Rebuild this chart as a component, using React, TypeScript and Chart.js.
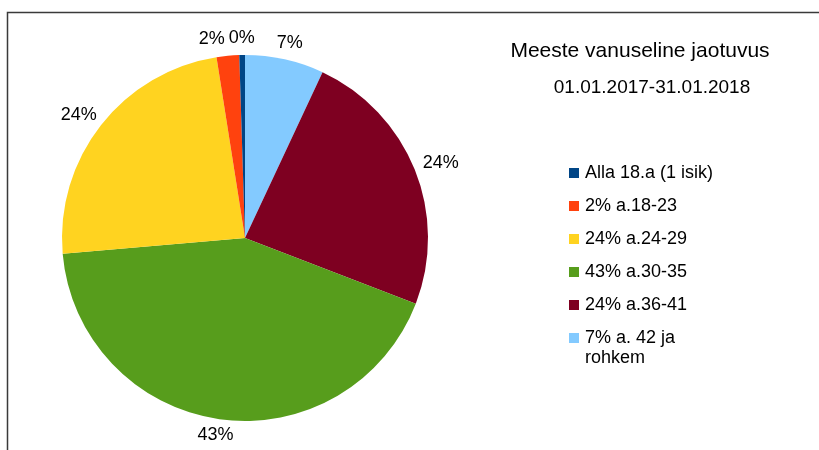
import React, { useEffect, useRef } from "react";
import { Chart, registerables } from "chart.js";

Chart.register(...registerables);

// ---- data ----
const legendLabels = [
  "Alla 18.a (1 isik)",
  "2% a.18-23",
  "24% a.24-29",
  "43% a.30-35",
  "24% a.36-41",
  "7% a. 42 ja rohkem",
];
const counts = [1, 4, 48, 86, 48, 14];
const sliceColors = ["#004586", "#ff420e", "#ffd320", "#579d1c", "#7e0021", "#83caff"];
const titleText = "Meeste vanuseline jaotuvus";
const subtitleText = "01.01.2017-31.01.2018";

const FONT = "'Liberation Sans', Arial, Helvetica, sans-serif";

function wrapText(ctx: CanvasRenderingContext2D, text: string, maxW: number): string[] {
  const words = text.split(" ");
  const lines: string[] = [];
  let cur = "";
  for (const w of words) {
    const test = cur ? cur + " " + w : w;
    if (ctx.measureText(test).width > maxW && cur) {
      lines.push(cur);
      cur = w;
    } else cur = test;
  }
  if (cur) lines.push(cur);
  return lines;
}

const decorPlugin = {
  id: "decor",
  beforeDraw(chart: any) {
    const ctx: CanvasRenderingContext2D = chart.ctx;
    ctx.save();
    ctx.strokeStyle = "#3a3a3a";
    ctx.lineWidth = 1.5;
    ctx.beginPath();
    ctx.moveTo(7.5, 450);
    ctx.lineTo(7.5, 12.5);
    ctx.lineTo(819, 12.5);
    ctx.stroke();
    ctx.restore();
  },
  afterDraw(chart: any) {
    const ctx: CanvasRenderingContext2D = chart.ctx;
    const meta = chart.getDatasetMeta(0);
    const data = chart.data.datasets[0].data as number[];
    const total = data.reduce((a, b) => a + b, 0);
    ctx.save();
    // percentage labels
    ctx.font = `18px ${FONT}`;
    ctx.fillStyle = "#000";
    ctx.textAlign = "center";
    ctx.textBaseline = "middle";
    const h = 13;
    const placed: { cx: number; cy: number; w: number; h: number }[] = [];
    for (let i = meta.data.length - 1; i >= 0; i--) {
      const arc = meta.data[i];
      const { x, y, startAngle, endAngle, outerRadius } = arc.getProps(
        ["x", "y", "startAngle", "endAngle", "outerRadius"],
        true
      );
      const mid = (startAngle + endAngle) / 2;
      const c = Math.cos(mid);
      const s = Math.sin(mid);
      const r = outerRadius + 10;
      const text = Math.round((data[i] / total) * 100) + "%";
      const w = ctx.measureText(text).width;
      let cx = x + r * c + (w / 2) * c;
      const cy = y + r * s + (h / 2) * s;
      for (const p of placed) {
        if (Math.abs(cx - p.cx) < (w + p.w) / 2 + 4 && Math.abs(cy - p.cy) < (h + p.h) / 2 + 2) {
          if (cx < p.cx) cx = p.cx - (w + p.w) / 2 - 4;
          else cx = p.cx + (w + p.w) / 2 + 4;
        }
      }
      placed.push({ cx, cy, w, h });
      ctx.fillText(text, cx, cy);
    }

    // title & subtitle
    ctx.font = `21px ${FONT}`;
    ctx.fillText(titleText, 640, 51);
    ctx.font = `19px ${FONT}`;
    ctx.fillText(subtitleText, 652, 88);

    // legend
    ctx.font = `18px ${FONT}`;
    ctx.textAlign = "left";
    let ly = 173;
    legendLabels.forEach((lab, i) => {
      ctx.fillStyle = sliceColors[i];
      ctx.fillRect(569, ly - 5, 10, 10);
      ctx.fillStyle = "#000";
      const lines = wrapText(ctx, lab, 140);
      lines.forEach((ln, j) => ctx.fillText(ln, 585, ly + j * 20));
      ly += 33 + (lines.length - 1) * 20;
    });
    ctx.restore();
  },
};

export default function App() {
  const ref = useRef<HTMLCanvasElement | null>(null);
  useEffect(() => {
    if (!ref.current) return;
    const chart = new Chart(ref.current, {
      type: "pie",
      data: {
        labels: legendLabels.slice().reverse(),
        datasets: [
          {
            data: counts.slice().reverse(),
            backgroundColor: sliceColors.slice().reverse(),
            borderWidth: 0,
          },
        ],
      },
      options: {
        responsive: false,
        animation: false,
        layout: { padding: { left: 62, top: 55, right: 391, bottom: 29 } },
        plugins: {
          legend: { display: false },
          tooltip: { enabled: false },
        },
      },
      plugins: [decorPlugin],
    });
    return () => chart.destroy();
  }, []);
  return (
    <div style={{ position: "fixed", left: 0, top: 0, width: 819, height: 450, background: "#fff" }}>
      <canvas ref={ref} width={819} height={450} style={{ display: "block" }} />
    </div>
  );
}
